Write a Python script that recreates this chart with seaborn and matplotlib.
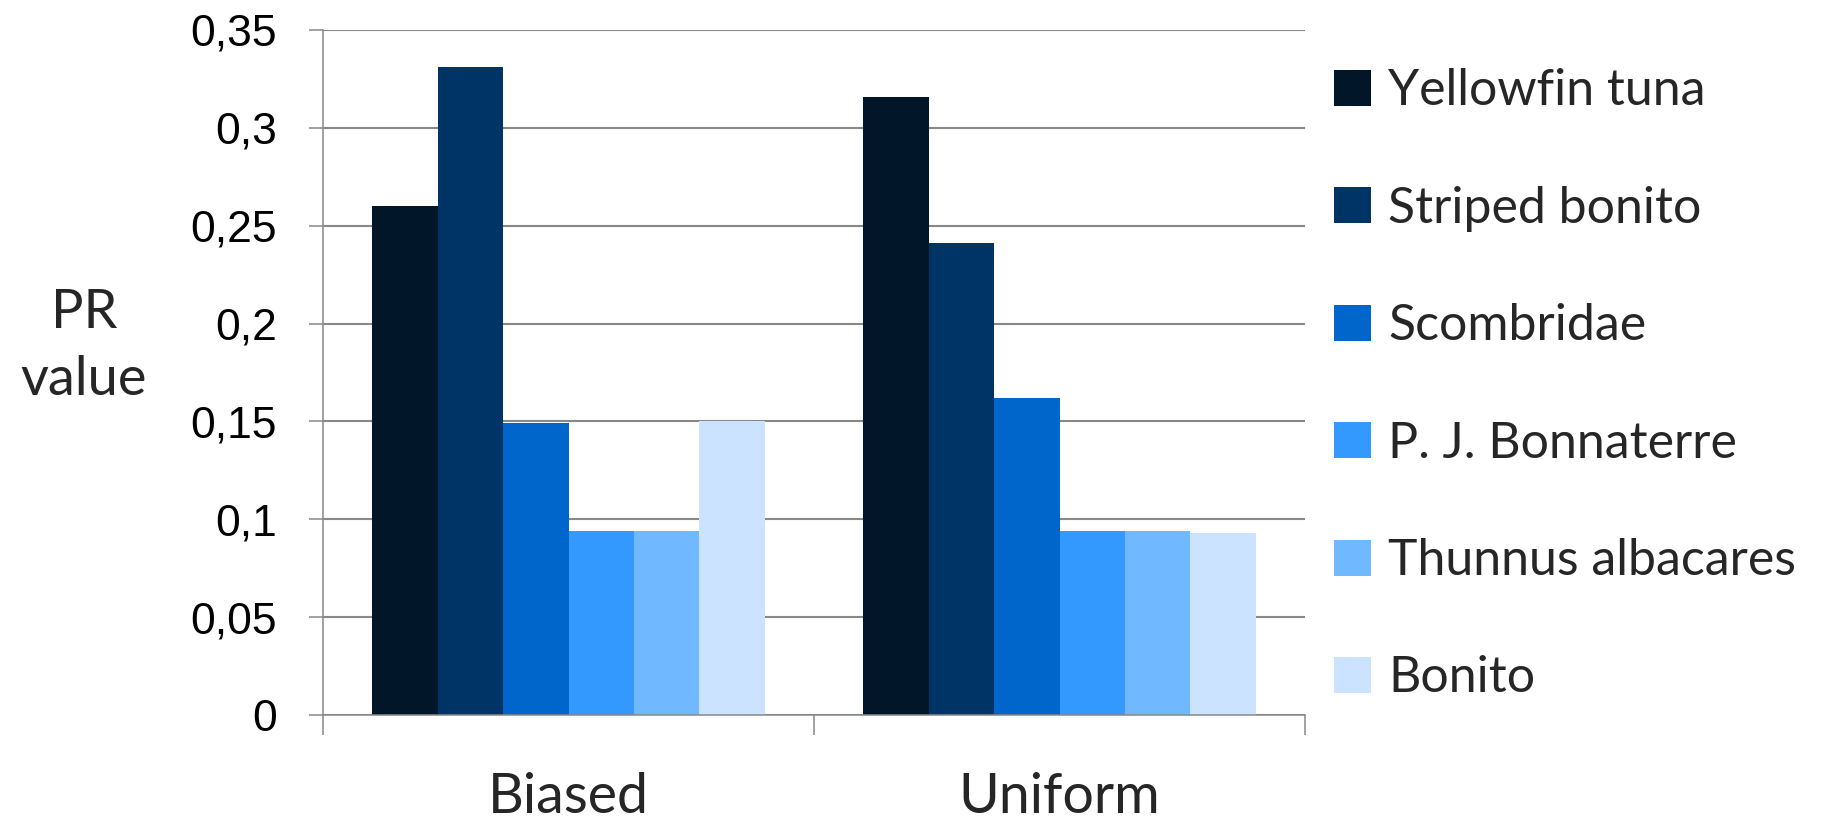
import matplotlib
matplotlib.use("Agg")
import matplotlib.pyplot as plt
from matplotlib.ticker import FixedLocator, MultipleLocator, FuncFormatter
import seaborn as sns
import pandas as pd

# PR values per sampling strategy and species
methods = ["Biased", "Uniform"]
species = ["Yellowfin tuna", "Striped bonito", "Scombridae",
           "P. J. Bonnaterre", "Thunnus albacares", "Bonito"]
biased_values = [0.260, 0.331, 0.149, 0.094, 0.094, 0.150]
uniform_values = [0.316, 0.241, 0.162, 0.094, 0.094, 0.093]
colors = ["#011629", "#003366", "#0066cc", "#3399ff", "#70b8ff", "#cce3ff"]

rows = []
for name, b, u in zip(species, biased_values, uniform_values):
    rows.append({"method": methods[0], "species": name, "value": b})
    rows.append({"method": methods[1], "species": name, "value": u})
df = pd.DataFrame(rows)

sns.set_style("white")
plt.rcParams["font.family"] = ["Liberation Sans", "DejaVu Sans"]

W, H, DPI = 1825, 822, 100
fig = plt.figure(figsize=(W / DPI, H / DPI), dpi=DPI)
ax = fig.add_axes([323 / W, 1 - 715 / H, (1305 - 323) / W, (715 - 30) / H])

sns.barplot(data=df, x="method", y="value", hue="species",
            order=methods, hue_order=species, palette=colors,
            saturation=1, width=0.8, errorbar=None, linewidth=0, ax=ax)

grid_col = "#888888"
ax.set_ylim(0, 0.35)
ax.set_xlim(-0.5, 1.5)
ax.yaxis.set_major_locator(MultipleLocator(0.05))
ax.yaxis.set_major_formatter(FuncFormatter(lambda v, p: f"{v:g}".replace(".", ",")))
ax.grid(axis="y", color=grid_col, linewidth=1.5)
ax.set_axisbelow(True)

for side in ["top", "right"]:
    ax.spines[side].set_visible(False)
for side in ["left", "bottom"]:
    ax.spines[side].set_color(grid_col)
    ax.spines[side].set_linewidth(1.1)

ax.tick_params(axis="y", length=10, width=1.1, color=grid_col, pad=23,
               labelsize=32, labelcolor="black", left=True)
ax.xaxis.set_minor_locator(FixedLocator([-0.5, 0.5, 1.5]))
ax.tick_params(axis="x", which="minor", length=14.5, width=1.1,
               color=grid_col, bottom=True)
ax.tick_params(axis="x", which="major", length=0, pad=41)
for lbl in ax.get_xticklabels():
    lbl.set_fontfamily(["Lato", "DejaVu Sans"])
    lbl.set_fontsize(40)
ax.set_xlabel("")
ax.set_ylabel("")

fig.text(84 / W, 1 - 346 / H, "PR\nvalue", ha="center", va="center",
         multialignment="center", fontsize=39, linespacing=1.45,
         family=["Lato", "DejaVu Sans"])

handles, labels = ax.get_legend_handles_labels()
ax.legend(handles, labels, loc="upper left",
          bbox_to_anchor=(1334 / W, 1 - 68 / H), bbox_transform=fig.transFigure,
          frameon=False, borderpad=0, borderaxespad=0,
          handlelength=0.73, handleheight=0.73, handletextpad=0.36,
          labelspacing=1.43, prop={"family": ["Lato", "DejaVu Sans"], "size": 36})

fig.savefig("out.png", dpi=DPI)
